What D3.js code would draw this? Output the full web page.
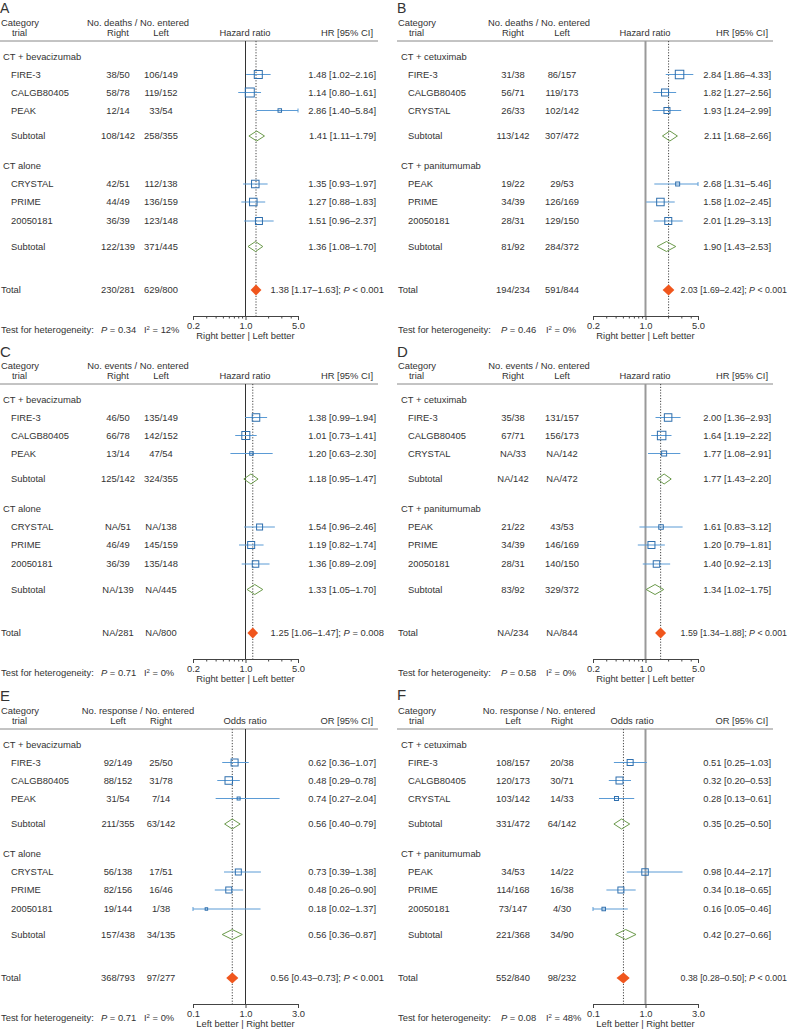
<!DOCTYPE html>
<html><head><meta charset="utf-8">
<script src="https://cdn.jsdelivr.net/npm/d3@7"></script>
<style>
html,body{margin:0;padding:0;background:#fff;}
svg text{font-family:"Liberation Sans",Arial,Helvetica,sans-serif;fill:#333;}
</style></head><body>
<svg id="chart" width="795" height="1032"></svg>
<script>
// ---------------- DATA ----------------
const panelLetters = ["A","B","C","D","E","F"];
const countHeaders = ["No. deaths / No. entered","No. deaths / No. entered","No. events / No. entered","No. events / No. entered","No. response / No. entered","No. response / No. entered"];
const columnHeaders = [["Right","Left"],["Right","Left"],["Right","Left"],["Right","Left"],["Left","Right"],["Left","Right"]];
const effectHeaders = ["Hazard ratio","Hazard ratio","Hazard ratio","Hazard ratio","Odds ratio","Odds ratio"];
const ciHeaders = ["HR [95% CI]","HR [95% CI]","HR [95% CI]","HR [95% CI]","OR [95% CI]","OR [95% CI]"];
const groupNames = [
  ["CT + bevacizumab","CT alone"],["CT + cetuximab","CT + panitumumab"],
  ["CT + bevacizumab","CT alone"],["CT + cetuximab","CT + panitumumab"],
  ["CT + bevacizumab","CT alone"],["CT + cetuximab","CT + panitumumab"]];
const trialNames = [
  ["FIRE-3","CALGB80405","PEAK","CRYSTAL","PRIME","20050181"],
  ["FIRE-3","CALGB80405","CRYSTAL","PEAK","PRIME","20050181"],
  ["FIRE-3","CALGB80405","PEAK","CRYSTAL","PRIME","20050181"],
  ["FIRE-3","CALGB80405","CRYSTAL","PEAK","PRIME","20050181"],
  ["FIRE-3","CALGB80405","PEAK","CRYSTAL","PRIME","20050181"],
  ["FIRE-3","CALGB80405","CRYSTAL","PEAK","PRIME","20050181"]];
// count columns: 6 trials, subtotal 1, subtotal 2, total
const countsCol1 = [
  ["38/50","58/78","12/14","42/51","44/49","36/39","108/142","122/139","230/281"],
  ["31/38","56/71","26/33","19/22","34/39","28/31","113/142","81/92","194/234"],
  ["46/50","66/78","13/14","NA/51","46/49","36/39","125/142","NA/139","NA/281"],
  ["35/38","67/71","NA/33","21/22","34/39","28/31","NA/142","83/92","NA/234"],
  ["92/149","88/152","31/54","56/138","82/156","19/144","211/355","157/438","368/793"],
  ["108/157","120/173","103/142","34/53","114/168","73/147","331/472","221/368","552/840"]];
const countsCol2 = [
  ["106/149","119/152","33/54","112/138","136/159","123/148","258/355","371/445","629/800"],
  ["86/157","119/173","102/142","29/53","126/169","129/150","307/472","284/372","591/844"],
  ["135/149","142/152","47/54","NA/138","145/159","135/148","324/355","NA/445","NA/800"],
  ["131/157","156/173","NA/142","43/53","146/169","140/150","NA/472","329/372","NA/844"],
  ["25/50","31/78","7/14","17/51","16/46","1/38","63/142","34/135","97/277"],
  ["20/38","30/71","14/33","14/22","16/38","4/30","64/142","34/90","98/232"]];
const trialEst = [
  [1.48,1.14,2.86,1.35,1.27,1.51],[2.84,1.82,1.93,2.68,1.58,2.01],
  [1.38,1.01,1.20,1.54,1.19,1.36],[2.00,1.64,1.77,1.61,1.20,1.40],
  [0.62,0.48,0.74,0.73,0.48,0.18],[0.51,0.32,0.28,0.98,0.34,0.16]];
const trialLo = [
  [1.02,0.80,1.40,0.93,0.88,0.96],[1.86,1.27,1.24,1.31,1.02,1.29],
  [0.99,0.73,0.63,0.96,0.82,0.89],[1.36,1.19,1.08,0.83,0.79,0.92],
  [0.36,0.29,0.27,0.39,0.26,0.02],[0.25,0.20,0.13,0.44,0.18,0.05]];
const trialHi = [
  [2.16,1.61,5.84,1.97,1.83,2.37],[4.33,2.56,2.99,5.46,2.45,3.13],
  [1.94,1.41,2.30,2.46,1.74,2.09],[2.93,2.22,2.91,3.12,1.81,2.13],
  [1.07,0.78,2.04,1.38,0.90,1.37],[1.03,0.53,0.61,2.17,0.65,0.46]];
// study weights (%)
const trialWeights = [
  [19.8,25.0,3.8,17.4,17.4,15.1],[22.3,15.1,11.1,4.9,17.4,15.1],
  [17.4,19.8,3.8,11.1,15.1,13.0],[17.4,22.3,7.7,6.3,15.1,13.0],
  [15.1,17.4,2.8,11.1,11.1,1.9],[11.1,15.1,4.9,13.0,11.1,3.8]];
const subEst = [[1.41,1.36],[2.11,1.90],[1.18,1.33],[1.77,1.34],[0.56,0.56],[0.35,0.42]];
const subLo  = [[1.11,1.08],[1.68,1.43],[0.95,1.05],[1.43,1.02],[0.40,0.36],[0.25,0.27]];
const subHi  = [[1.79,1.70],[2.66,2.53],[1.47,1.70],[2.20,1.75],[0.79,0.87],[0.50,0.66]];
const totalEst = [1.38,2.03,1.25,1.59,0.56,0.38];
const totalLo  = [1.17,1.69,1.06,1.34,0.43,0.28];
const totalHi  = [1.63,2.42,1.47,1.88,0.73,0.50];
const totalP   = ["< 0.001","< 0.001","= 0.008","< 0.001","< 0.001","< 0.001"];
const hetP     = ["0.34","0.46","0.71","0.58","0.71","0.08"];
const hetI2    = ["12%","0%","0%","0%","0%","48%"];
const axisTicks = [[0.2,1,5],[0.2,1,5],[0.2,1,5],[0.2,1,5],[0.1,1,3],[0.1,1,3]];
const minorTicks = [
  [0.3,0.4,0.5,0.6,0.7,0.8,0.9,2,3,4],[0.3,0.4,0.5,0.6,0.7,0.8,0.9,2,3,4],
  [0.3,0.4,0.5,0.6,0.7,0.8,0.9,2,3,4],[0.3,0.4,0.5,0.6,0.7,0.8,0.9,2,3,4],
  [],[]];
const betterLabels = ["Right better | Left better","Right better | Left better","Right better | Left better","Right better | Left better","Left better | Right better","Left better | Right better"];

// ---------------- LAYOUT ----------------
const FS = 9.4;
const panelTop = [0,0,343,343,688,688];
const letterY = [13,13,14,14,12.5,11.5];
const letterFS = [14,14,15,15,15,15];
const effectHeaderX = [245,645,245,645,245,632];
const LEFT = {cat:1, grp:3, trial:11, c1:118, c2:161, cHead:138, axis:[193,245.5,298], ciR:376, lineEnd:378, totR:384, totFS:9.4, pX:101, iX:144};
const RIGHT= {cat:398, grp:401, trial:408, c1:513, c2:562, cHead:539, axis:[593,645.5,698], ciR:771, lineEnd:773, totR:787, totFS:8.8, pX:501, iX:546};
const ROW = {cat:23, sub1:32.5, hline:41, g1:57, trials:[74.5,92.5,110.5,184,202,221], subs:[136,246.5], g2:166, total:290, axis:316, het:330, better:336};

const C = {text:"#333", sq:"#2f6fad", ci:"#5b9bd5", sub:"#6b9a4b", tot:"#f0561d"};
const fmt = d3.format(".2f");
const svg = d3.select("#chart");
const size = d3.scaleSqrt().domain([0,100]).range([0,18]);

function txt(g, x, y, s, anchor){
  return g.append("text").attr("x",x).attr("y",y).attr("dy","0.35em")
    .attr("font-size",FS).attr("text-anchor",anchor||"start").text(s);
}

panelLetters.forEach((letter,p)=>{
  const L = p%2===0 ? LEFT : RIGHT;
  const g = svg.append("g").attr("transform",`translate(0,${panelTop[p]})`);
  const dom = axisTicks[p];
  const x = d3.scaleLog().domain(dom).range(L.axis);
  const xmin = dom[0], xmax = dom[dom.length-1];

  // panel letter
  g.append("text").attr("x",L.cat-1).attr("y",letterY[p]).attr("font-size",letterFS[p]).text(letter);

  // headers
  txt(g,L.cat,ROW.cat,"Category");
  txt(g,L.cat+11,ROW.sub1,"trial");
  txt(g,L.cHead,ROW.cat-0.5,countHeaders[p],"middle");
  txt(g,L.c1,ROW.sub1,columnHeaders[p][0],"middle");
  txt(g,L.c2,ROW.sub1,columnHeaders[p][1],"middle");
  txt(g,effectHeaderX[p],ROW.sub1,effectHeaders[p],"middle");
  txt(g,L.ciR-3,ROW.sub1,ciHeaders[p],"end");
  g.append("line").attr("x1",L.cat-1).attr("x2",L.lineEnd).attr("y1",ROW.hline).attr("y2",ROW.hline)
    .attr("stroke","#888").attr("stroke-width",1);

  // reference lines
  const isRight = p%2===1;
  g.append("line").attr("x1",x(1)).attr("x2",x(1)).attr("y1",ROW.hline).attr("y2",ROW.axis)
    .attr("stroke",isRight?"#999":"#333").attr("stroke-width",isRight?2:1);
  g.append("line").attr("x1",x(totalEst[p])).attr("x2",x(totalEst[p])).attr("y1",ROW.hline).attr("y2",ROW.axis)
    .attr("stroke","#444").attr("stroke-width",1).attr("stroke-dasharray","1.2,1.6");

  // group headers
  txt(g,L.grp,ROW.g1,groupNames[p][0]);
  txt(g,L.grp,ROW.g2,groupNames[p][1]);

  // trials
  trialNames[p].forEach((name,i)=>{
    const y = ROW.trials[i];
    txt(g,L.trial,y,name);
    txt(g,L.c1,y,countsCol1[p][i],"middle");
    txt(g,L.c2,y,countsCol2[p][i],"middle");
    txt(g,L.ciR,y,`${fmt(trialEst[p][i])} [${fmt(trialLo[p][i])}–${fmt(trialHi[p][i])}]`,"end");
    const lo = Math.max(trialLo[p][i],xmin), hi = Math.min(trialHi[p][i],xmax);
    g.append("line").attr("x1",x(lo)).attr("x2",x(hi)).attr("y1",y).attr("y2",y)
      .attr("stroke",C.ci).attr("stroke-width",1);
    if(trialLo[p][i]<xmin) g.append("line").attr("x1",x(xmin)).attr("x2",x(xmin)).attr("y1",y-2).attr("y2",y+2).attr("stroke",C.ci);
    if(trialHi[p][i]>xmax) g.append("line").attr("x1",x(xmax)).attr("x2",x(xmax)).attr("y1",y-2).attr("y2",y+2).attr("stroke",C.ci);
    const s = size(trialWeights[p][i]);
    g.append("rect").attr("x",x(trialEst[p][i])-s/2).attr("y",y-s/2).attr("width",s).attr("height",s)
      .attr("fill","none").attr("stroke",C.sq).attr("stroke-width",1);
  });

  // subtotals
  [0,1].forEach(k=>{
    const y = ROW.subs[k];
    txt(g,L.trial,y,"Subtotal");
    txt(g,L.c1,y,countsCol1[p][6+k],"middle");
    txt(g,L.c2,y,countsCol2[p][6+k],"middle");
    txt(g,L.ciR,y,`${fmt(subEst[p][k])} [${fmt(subLo[p][k])}–${fmt(subHi[p][k])}]`,"end");
    const pts = [[x(subLo[p][k]),y],[x(subEst[p][k]),y-5],[x(subHi[p][k]),y],[x(subEst[p][k]),y+5]];
    g.append("polygon").attr("points",pts.map(d=>d.join(",")).join(" "))
      .attr("fill","none").attr("stroke",C.sub).attr("stroke-width",1);
  });

  // total
  const yt = ROW.total;
  txt(g,L.cat,yt,"Total");
  txt(g,L.c1,yt,countsCol1[p][8],"middle");
  txt(g,L.c2,yt,countsCol2[p][8],"middle");
  const tt = txt(g,L.totR,yt,"","end").attr("font-size",L.totFS);
  tt.append("tspan").text(`${fmt(totalEst[p])} [${fmt(totalLo[p])}–${fmt(totalHi[p])}]; `);
  tt.append("tspan").attr("font-style","italic").text("P");
  tt.append("tspan").text(" "+totalP[p]);
  const tp = [[x(totalLo[p]),yt],[x(totalEst[p]),yt-5.5],[x(totalHi[p]),yt],[x(totalEst[p]),yt+5.5]];
  g.append("polygon").attr("points",tp.map(d=>d.join(",")).join(" ")).attr("fill",C.tot).attr("stroke","none");

  // axis
  const ax = g.append("g").attr("transform",`translate(0,${ROW.axis})`)
    .call(d3.axisBottom(x).tickValues(axisTicks[p]).tickFormat(d3.format(".1f")).tickSize(4).tickSizeOuter(0).tickPadding(2));
  ax.selectAll("text").attr("font-size",FS).attr("font-family","Liberation Sans, Arial, sans-serif").attr("fill",C.text);
  ax.selectAll("line,path").attr("stroke","#444");
  if(minorTicks[p].length){
    const mx = g.append("g").attr("transform",`translate(0,${ROW.axis})`)
      .call(d3.axisBottom(x).tickValues(minorTicks[p]).tickFormat("").tickSize(2.5).tickSizeOuter(0));
    mx.select(".domain").remove();
    mx.selectAll("line").attr("stroke","#444");
  }
  txt(g,(L.axis[0]+L.axis[2])/2,ROW.better,betterLabels[p],"middle");

  // heterogeneity
  txt(g,L.cat,ROW.het,"Test for heterogeneity:");
  const ph = txt(g,L.pX,ROW.het,"");
  ph.append("tspan").attr("font-style","italic").text("P");
  ph.append("tspan").text(" = "+hetP[p]);
  const ih = txt(g,L.iX,ROW.het,"");
  ih.append("tspan").text("I");
  ih.append("tspan").attr("font-size",6).attr("dy",-3.5).text("2");
  ih.append("tspan").attr("dy",3.5).text(" = "+hetI2[p]);
});
</script>
</body></html>
